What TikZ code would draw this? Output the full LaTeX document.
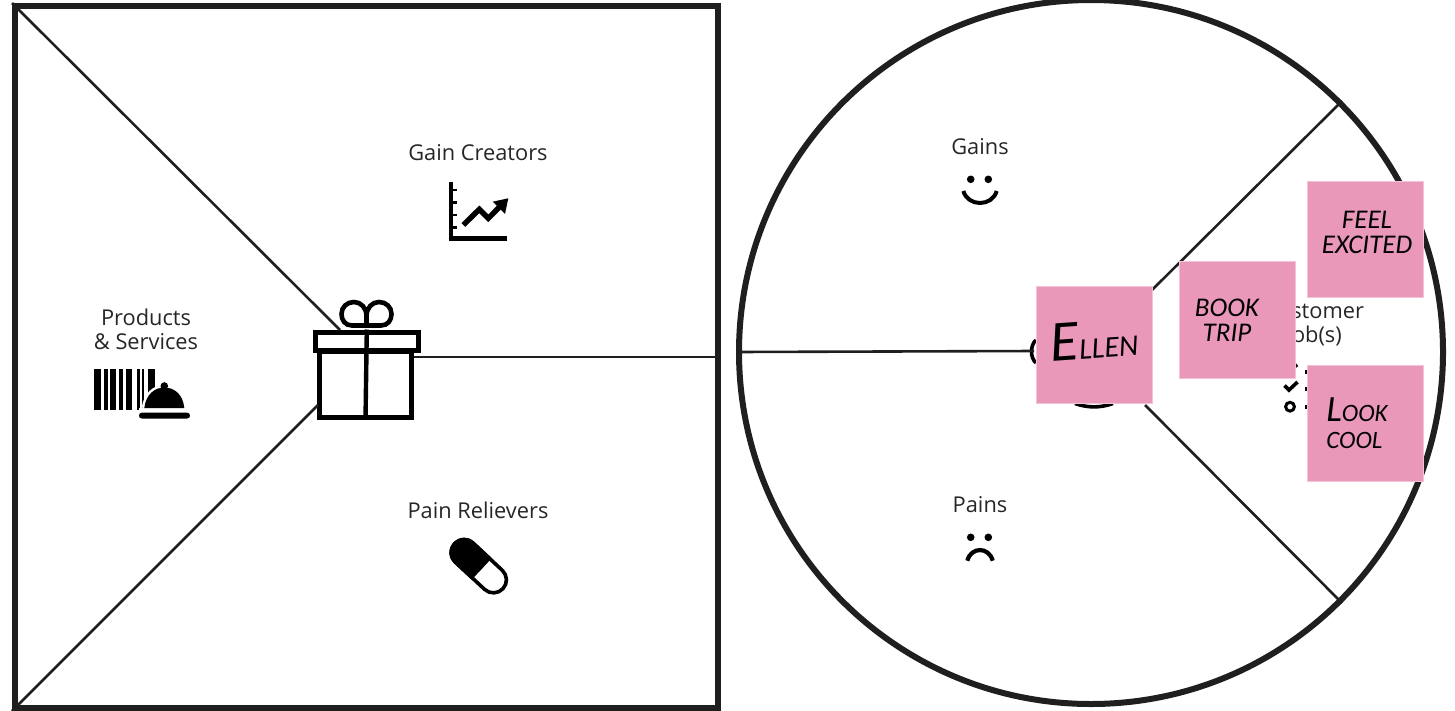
\documentclass[tikz,border=0pt]{standalone}
\usepackage{fontspec}
\setmainfont{Open Sans}
\newfontfamily\scrawlfont{Carlito}
\usetikzlibrary{arrows.meta,positioning}
\definecolor{CanvasInk}{HTML}{1F1F1F}
\definecolor{NotePink}{HTML}{EA98B9}
\definecolor{NoteEdge}{HTML}{F3C3D6}

\begin{document}
\begin{tikzpicture}[x=1pt, y=-1pt, font=\fontsize{21.8}{24}\selectfont,
  frame/.style={draw=CanvasInk, line width=6pt, inner sep=0pt},
  divider/.style={draw=CanvasInk, line width=2.6pt},
  caption/.style={align=center, inner sep=0pt, text=black!85},
  glyph/.style={draw=black, line width=5pt, inner sep=0pt},
  sticky/.style={draw=NoteEdge, line width=.6pt, fill=NotePink, minimum width=116pt, minimum height=116.5pt, inner sep=0pt},
  scrawl/.style={align=center, inner sep=0pt, text=black, font=\scrawlfont\itshape\fontsize{27}{25}\selectfont}]
\useasboundingbox (0,0) rectangle (1455,710);
\node[frame, minimum width=703pt, minimum height=702pt] (map) at (366.5,357) {};
\node[frame, circle, minimum size=704pt] (profile) at (1091,352) {};

\node[glyph, minimum width=92pt, minimum height=66pt] (box) at (365.5,384) {};
\node[glyph, fill=white, minimum width=103pt, minimum height=18pt] (lid) at (366.8,341) {};
\draw[line width=4.6pt] (366.5,327) -- (366.5,316) .. controls (366.5,308) and (361,302) .. (354,302) .. controls (347,302) and (341.5,307) .. (341.5,314) .. controls (341.5,320) and (345,325.5) .. (352,325.5) -- (381,325.5) .. controls (388,325.5) and (391.5,320) .. (391.5,314) .. controls (391.5,307) and (386,302) .. (379,302) .. controls (372,302) and (366.5,308) .. (366.5,316);
\draw[line width=4.4pt] (lid.north) -- (box.south);
\coordinate (lidhit) at (340,330);
\coordinate (boxhit) at (318,405);
\draw[divider] (map.north west) -- (lidhit);
\draw[divider] (map.south west) -- (boxhit);
\draw[divider] (box.east |- 0,357) -- (map.east |- 0,357);

\node[caption] (gaincreators) at (478,153) {Gain Creators};
\node[caption] (products) at (146,329.5) {Products\\\& Services};
\node[caption] (painrelievers) at (478,510.5) {Pain Relievers};

\foreach \xa/\xb in {94.3/101,104.3/107.7,110.3/115.7,119/123,126.3/132.3,137/140.3,142.3/144.3,148.3/155}
  \fill (\xa,369) rectangle (\xb,410);
\draw[white, line width=5pt] (144.3,408) .. controls (146,394) and (155,387.5) .. (164.3,387.5) .. controls (174,387.5) and (183,394) .. (184.3,408);
\fill[white] (139,408) rectangle (160,412.7);
\fill (144.3,408) .. controls (146,394) and (155,387.5) .. (164.3,387.5) .. controls (174,387.5) and (183,394) .. (184.3,408) -- cycle;
\fill (164.3,386) circle (3.8);
\fill[rounded corners=2.8pt] (139,412.7) rectangle (190,418.5);

\draw[line width=4.6pt] (451,181.7) -- (451,238.3) -- (506.7,238.3);
\foreach \ya in {190,202.3,215,227.3}
  \draw[line width=2.6pt] (451,\ya) -- (457,\ya);
\draw[line width=5.4pt] (463.3,225) -- (479.3,209.3) -- (488.3,218.3) -- (501,205.5);
\fill (492.7,201.7) -- (508.3,198.3) -- (505,214) -- cycle;

\begin{scope}[shift={(478.8,566.2)}, rotate=-43]
\draw[line width=3.6pt, fill=white, rounded corners=13pt] (-33,-13) rectangle (33,13);
\fill[rounded corners=14.5pt] (-34.8,-14.8) -- (4,-14.8) -- (4,14.8) -- (-34.8,14.8) -- cycle;
\fill (-10,-14.8) rectangle (4,14.8);
\end{scope}

\draw[line width=3.6pt] (1036,340) .. controls (1030,345) and (1030,358) .. (1036,363);
\draw[line width=3.6pt] (1075,403.5) .. controls (1088,408) and (1100,408) .. (1113,403.5);
\coordinate (hubleft) at (1034,351);
\coordinate (hubupper) at (1150,292);
\coordinate (hublower) at (1145,405);
\draw[divider] (profile.180) -- (hubleft);
\draw[divider] (profile.45) -- (hubupper);
\draw[divider] (profile.-45) -- (hublower);

\node[caption] (gains) at (980,147) {Gains};
\fill (970.7,179.3) circle (3.8) (988.3,179.3) circle (3.8);
\draw[line width=4pt] (963.3,191) .. controls (968,207) and (992,207) .. (996.7,191);
\node[caption] (pains) at (980,505) {Pains};
\fill (970.7,537.3) circle (3.8) (988.3,537.3) circle (3.8);
\draw[line width=4.2pt] (967.3,560.7) .. controls (971,546.5) and (989,546.5) .. (992.7,560.7);

\node[caption] (jobs) at (1314,324.5) {Customer\\Job(s)};
\draw[line width=3.6pt] (1285,368) -- (1289,372) -- (1297,364.5);
\draw[line width=3.6pt] (1284.5,385.5) -- (1289,390) -- (1297.5,382);
\draw[line width=3pt] (1290,406.7) circle (4.4);
\foreach \ya in {371.7,389,406.7}
  \draw[line width=4pt] (1305,\ya) -- (1308,\ya);

\node[sticky] (ellen) at (1094,345) {};
\node[sticky] (book) at (1237,320) {};
\node[sticky] (feel) at (1365.3,239.3) {};
\node[sticky] (look) at (1365.3,423.3) {};
\node[scrawl, rotate=4, font=\scrawlfont\itshape\fontsize{30}{30}\selectfont] (ellentext) at (1094,340) {{\fontsize{58}{58}\selectfont E}LLEN};
\node[scrawl] (booktext) at (1227,320) {BOOK\\TRIP};
\node[scrawl] (feeltext) at (1367,232) {FEEL\\EXCITED};
\node[scrawl, align=left, font=\scrawlfont\itshape\fontsize{25}{27}\selectfont] (looktext) at (1357,423) {{\fontsize{37}{37}\selectfont L}OOK\\COOL};
\end{tikzpicture}
\end{document}
